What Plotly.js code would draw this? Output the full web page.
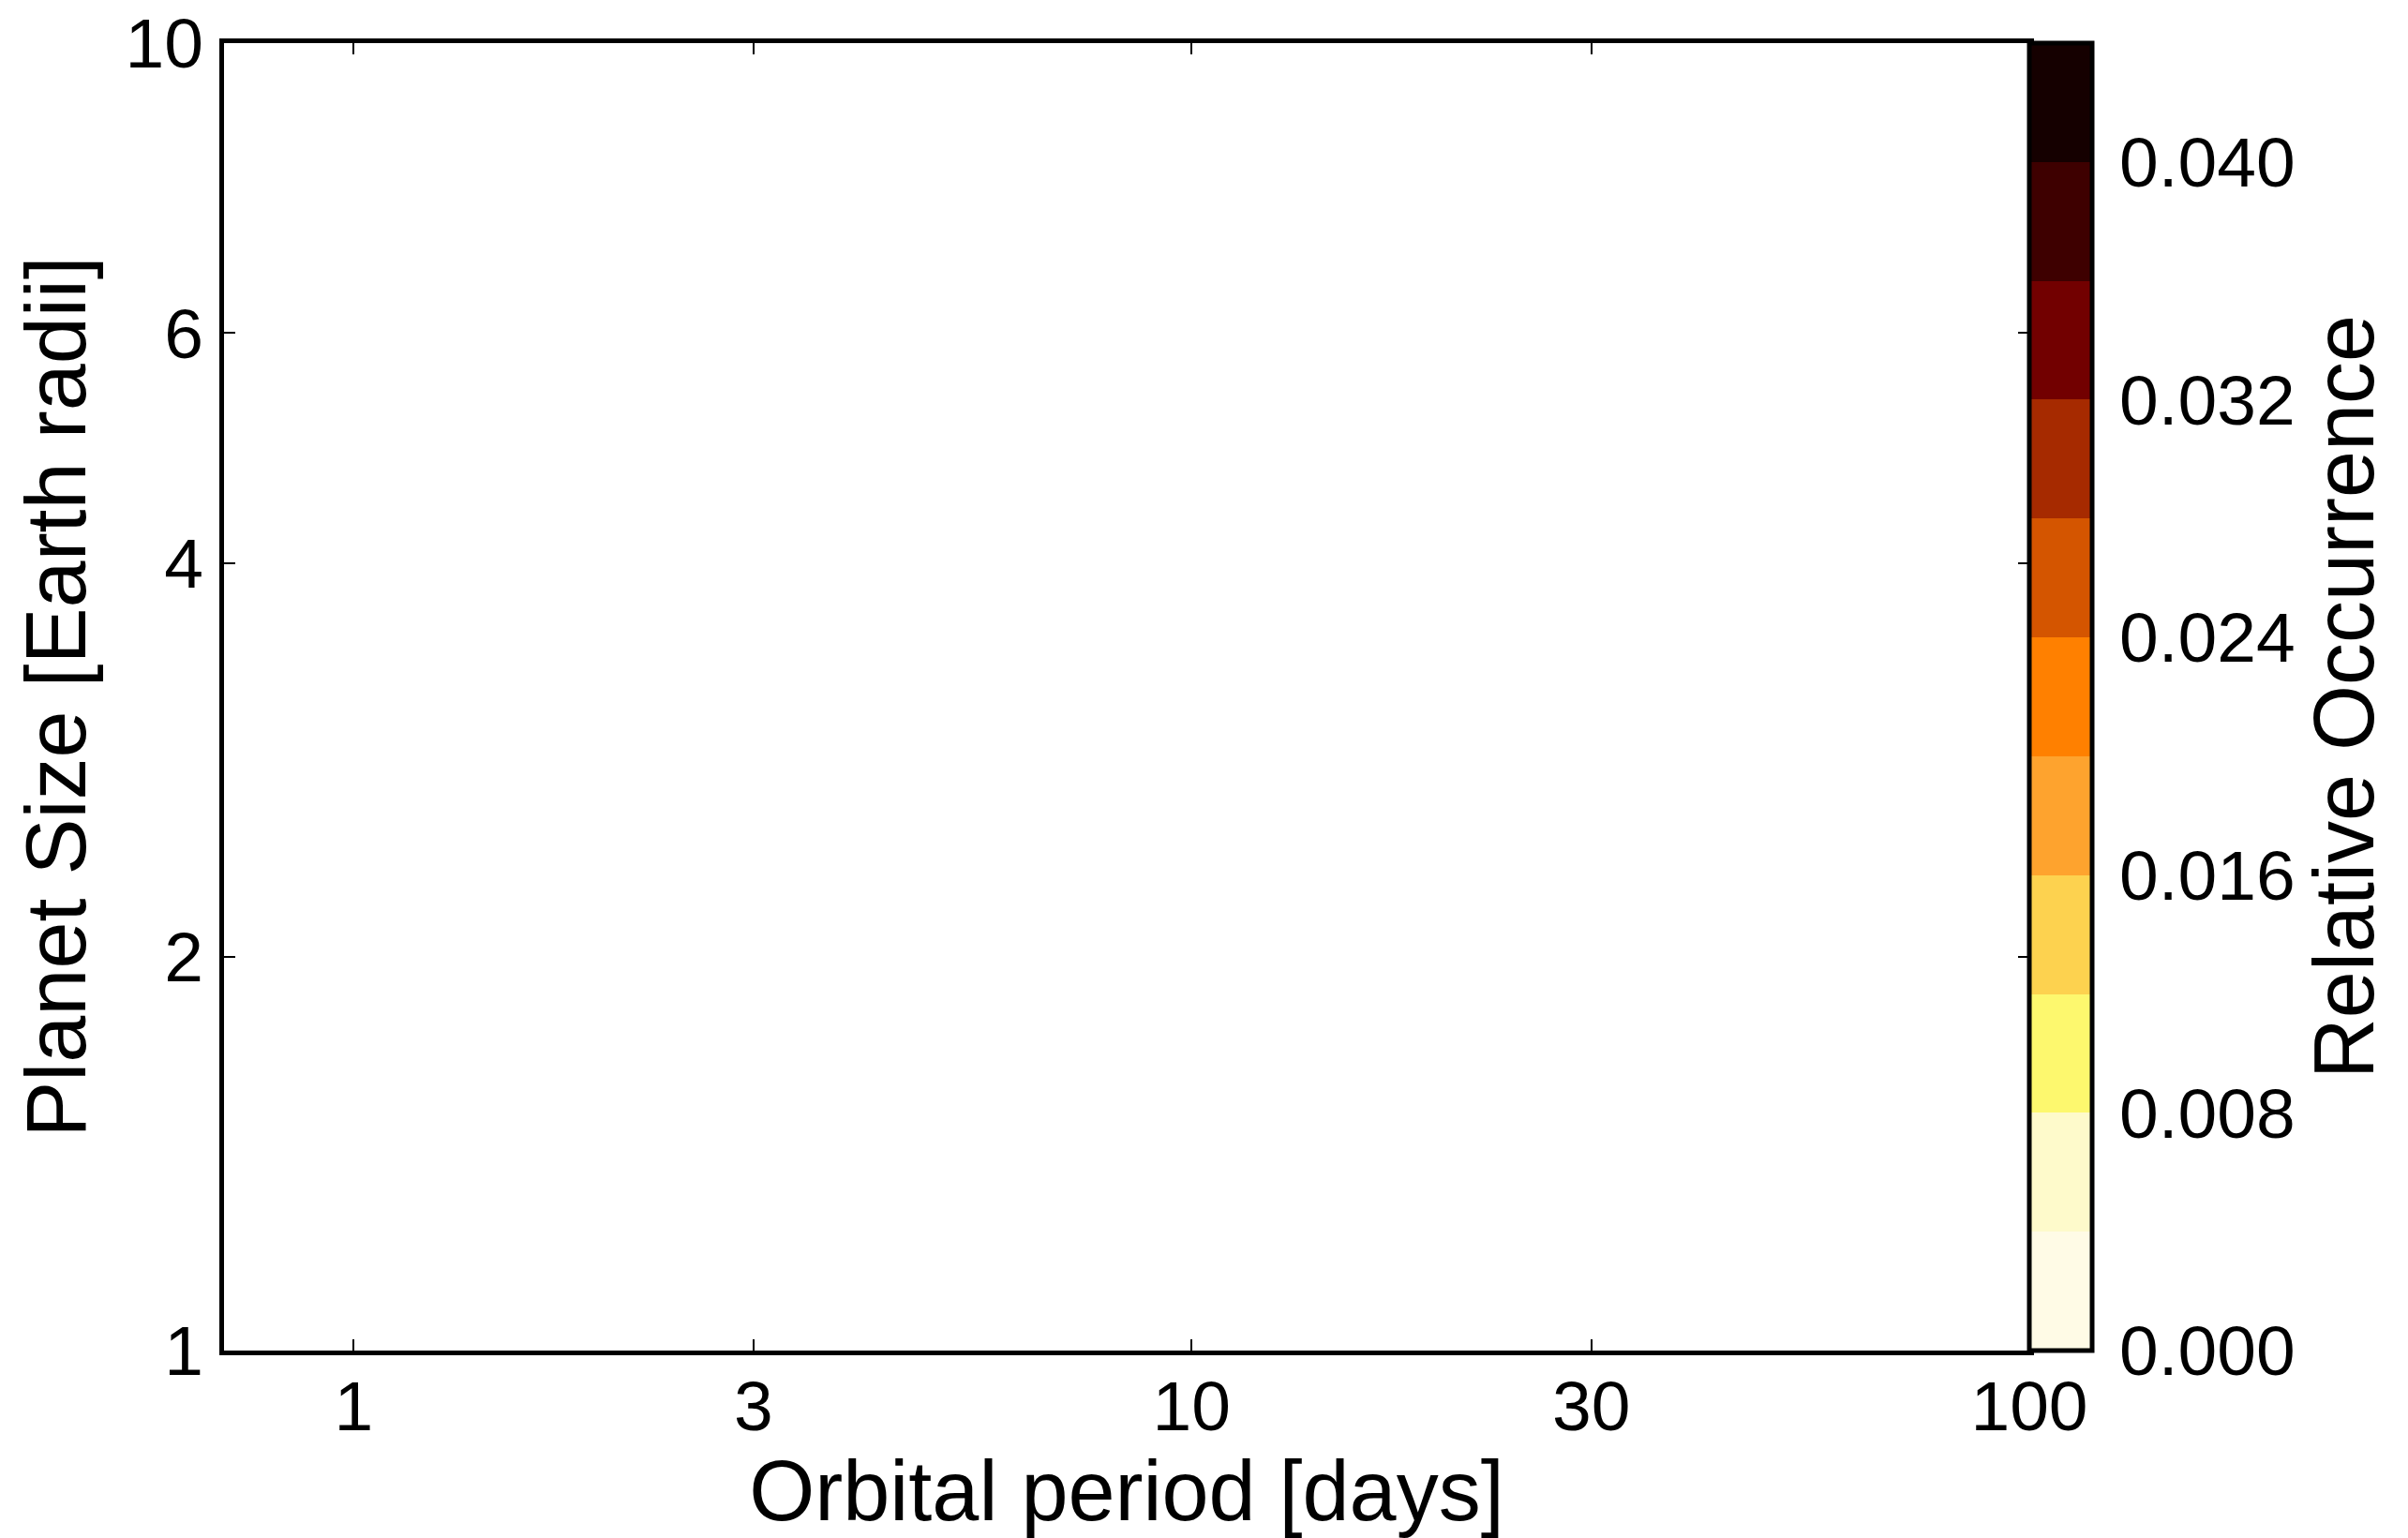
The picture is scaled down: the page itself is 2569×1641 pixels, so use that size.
<!DOCTYPE html>
<html>
<head>
<meta charset="utf-8">
<script src="https://cdn.plot.ly/plotly-3.0.1.min.js"></script>
<style>
  html, body { margin: 0; padding: 0; background: #ffffff; }
  #chart { width: 2569px; height: 1641px; }
</style>
</head>
<body>
<div id="chart"></div>
<script>
// ---- data: the occurrence map itself is empty ----
var planetPeriod = [null];       // days  (no cells are drawn in the reference)
var planetRadius = [null];       // Earth radii
var planetOccurrence = [null];   // relative occurrence
var xTickVals = [1, 3, 10, 30, 100];
var xTickText = ['1', '3', '10', '30', '100'];
var yTickVals = [1, 2, 4, 6, 10];
var yTickText = ['1', '2', '4', '6', '10'];
var levelColors = ['#fffbe6', '#fefacb', '#fdf86e', '#fdd24f', '#fea32e', '#ff8000',
                   '#d45500', '#a62a00', '#720000', '#3e0000', '#150000'];
var levelMin = 0, levelMax = 0.044;
var cbTickVals = [0, 0.008, 0.016, 0.024, 0.032, 0.040];

// stepped colour scale built from the level colours
var colorscale = [];
for (var i = 0; i < levelColors.length; i++) {
  colorscale.push([i / levelColors.length, levelColors[i]]);
  colorscale.push([(i + 1) / levelColors.length, levelColors[i]]);
}

var FONT = 'Liberation Sans, Arial, Helvetica, sans-serif';

var trace = {
  type: 'scatter',
  mode: 'markers',
  x: planetPeriod,
  y: planetRadius,
  hoverinfo: 'skip',
  marker: {
    color: planetOccurrence,
    cmin: levelMin,
    cmax: levelMax,
    cauto: false,
    colorscale: colorscale,
    showscale: true,
    colorbar: {
      x: 1, xanchor: 'left', xpad: 0,
      y: 0.5, yanchor: 'middle', ypad: 0,
      len: 1, lenmode: 'fraction',
      thickness: 67, thicknessmode: 'pixels',
      outlinewidth: 5, outlinecolor: '#000000',
      tickmode: 'array',
      tickvals: cbTickVals,
      tickformat: '.3f',
      ticks: 'outside', ticklen: 12, tickwidth: 2, tickcolor: 'rgba(0,0,0,0)',
      tickfont: { family: FONT, size: 75, color: '#000000' },
      title: { text: 'Relative Occurrence', side: 'right',
               font: { family: FONT, size: 90, color: '#000000' } }
    }
  }
};

var layout = {
  width: 2569, height: 1641,
  margin: { l: 239, r: 404, t: 46, b: 200, pad: 0 },
  paper_bgcolor: '#ffffff',
  plot_bgcolor: '#ffffff',
  showlegend: false,
  font: { family: FONT, color: '#000000' },
  xaxis: {
    type: 'log',
    range: [Math.log10(0.7), 2],
    autorange: false,
    tickmode: 'array', tickvals: xTickVals, ticktext: xTickText,
    ticks: 'inside', ticklen: 12, tickwidth: 2, tickcolor: '#000000',
    showline: true, linewidth: 5, linecolor: '#000000', mirror: 'ticks',
    showgrid: false, zeroline: false,
    tickfont: { family: FONT, size: 75, color: '#000000' },
    ticklabelstandoff: -10,
    title: { text: 'Orbital period [days]', standoff: 8,
             font: { family: FONT, size: 90, color: '#000000' } }
  },
  yaxis: {
    type: 'log',
    range: [0, 1],
    autorange: false,
    tickmode: 'array', tickvals: yTickVals, ticktext: yTickText,
    ticks: 'inside', ticklen: 12, tickwidth: 2, tickcolor: '#000000',
    showline: true, linewidth: 5, linecolor: '#000000', mirror: 'ticks',
    showgrid: false, zeroline: false,
    tickfont: { family: FONT, size: 75, color: '#000000' },
    ticklabelstandoff: 2,
    title: { text: 'Planet Size [Earth radii]', standoff: 14,
             font: { family: FONT, size: 90, color: '#000000' } }
  }
};

Plotly.newPlot('chart', [trace], layout, { staticPlot: true, displayModeBar: false });
</script>
</body>
</html>
